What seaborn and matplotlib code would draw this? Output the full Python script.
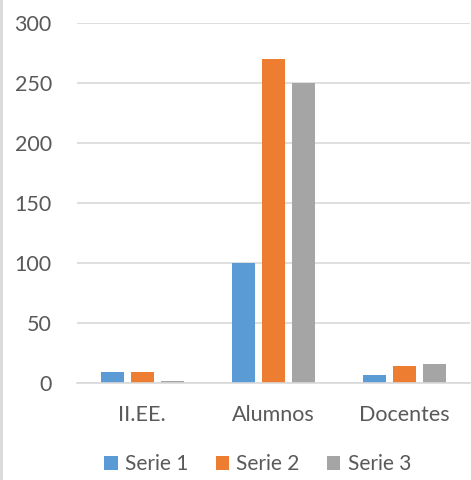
import matplotlib
matplotlib.use('Agg')
import matplotlib.pyplot as plt
import matplotlib.lines as mlines
import pandas as pd
import seaborn as sns

categories = ['II.EE.', 'Alumnos', 'Docentes']
series_names = ['Serie 1', 'Serie 2', 'Serie 3']
serie1 = [9, 100, 7]
serie2 = [9, 270, 14]
serie3 = [2, 250, 16]
colors = ['#5B9BD5', '#ED7D31', '#A5A5A5']

rows = []
for name, vals in zip(series_names, [serie1, serie2, serie3]):
    for cat, v in zip(categories, vals):
        rows.append({'categoria': cat, 'valor': v, 'serie': name})
frame = pd.DataFrame(rows)

sns.set_style('white')
plt.rcParams['font.family'] = ['Lato', 'DejaVu Sans']

fig = plt.figure(figsize=(4.71, 4.80), dpi=100)
ax = fig.add_axes([0.163, 0.202, 0.835, 0.75])
sns.barplot(data=frame, x='categoria', y='valor', hue='serie', palette=colors,
            width=0.69, gap=0.23, ax=ax, saturation=1, linewidth=0)

ax.set_ylim(0, 300)
ax.set_yticks(range(0, 301, 50))
ax.set_xlim(-0.5, 2.5)
ax.yaxis.grid(True, color='#D9D9D9', linewidth=1.2)
ax.set_axisbelow(True)
for side in ['left', 'right', 'top']:
    ax.spines[side].set_visible(False)
ax.spines['bottom'].set_color('#D9D9D9')
ax.spines['bottom'].set_linewidth(1.2)
ax.set_xlabel('')
ax.set_ylabel('')
ax.xaxis.set_tick_params(length=0, labelsize=15.5, labelcolor='#595959', pad=16)
ax.yaxis.set_tick_params(length=0, labelsize=15.5, labelcolor='#595959', pad=18)

ax.legend(loc='center', bbox_to_anchor=(0.46, -0.225), ncol=3, frameon=False,
          fontsize=15, labelcolor='#595959', handlelength=0.65, handleheight=0.65,
          handletextpad=0.35, columnspacing=1.3)

fig.add_artist(mlines.Line2D([0.002, 0.002], [0, 1], color='#D9D9D9', linewidth=2,
                             transform=fig.transFigure))

plt.savefig('out.png', dpi=100)
